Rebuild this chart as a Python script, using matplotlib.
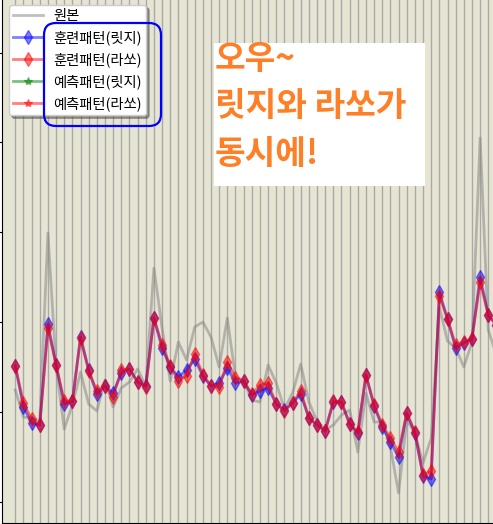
import matplotlib
matplotlib.use('Agg')
import matplotlib.pyplot as plt
from matplotlib.patches import FancyBboxPatch, Rectangle

plt.rcParams['font.family'] = ['Noto Sans CJK KR', 'DejaVu Sans']

# 원본 데이터와 학습 패턴
original = [12.42, 9.41, 9.30, 8.96, 29.90, 15.09, 8.07, 10.75, 14.42, 10.86,
            10.08, 13.53, 10.52, 12.64, 13.31, 14.76, 12.86, 26.00, 19.32, 13.42,
            17.76, 15.76, 19.43, 19.99, 18.32, 14.98, 20.43, 13.86, 13.42, 11.30,
            11.08, 15.20, 13.20, 10.30, 12.08, 15.31, 11.08, 8.96, 7.96, 8.52,
            9.63, 10.19, 5.51, 12.08, 8.85, 8.85, 6.07, 0.95, 9.08, 7.63,
            4.29, 7.07, 21.66, 17.87, 17.09, 14.98, 17.76, 40.48, 19.10, 16.31]

train_ridge = [15.09, 10.52, 8.74, 8.52, 19.77, 15.20, 10.86, 11.14, 18.32, 14.64,
               11.97, 12.86, 12.08, 14.31, 14.76, 13.31, 12.86, 20.43, 17.09, 14.98,
               13.86, 14.64, 15.87, 13.98, 12.86, 13.20, 14.87, 13.20, 13.42, 11.86,
               12.31, 12.64, 10.86, 10.19, 10.97, 11.97, 9.30, 8.52, 7.85, 11.08,
               11.08, 8.63, 7.63, 14.09, 10.63, 8.30, 6.63, 4.96, 9.86, 7.63,
               2.84, 2.51, 23.33, 20.32, 17.09, 17.65, 18.10, 25.00, 20.77, 19.65]

train_lasso = [15.09, 10.97, 9.19, 8.52, 19.32, 15.20, 11.19, 11.14, 18.21, 14.53,
               12.31, 12.86, 11.64, 14.64, 14.76, 13.31, 12.75, 20.43, 17.43, 15.09,
               13.42, 13.98, 16.43, 14.09, 12.86, 12.75, 15.53, 13.75, 13.42, 11.97,
               12.97, 13.20, 10.86, 10.08, 10.97, 12.31, 9.30, 8.52, 7.85, 11.19,
               11.08, 8.63, 7.74, 14.09, 10.75, 8.52, 7.07, 5.51, 9.86, 7.74,
               2.95, 3.40, 22.88, 20.32, 17.43, 17.76, 18.10, 24.44, 20.77, 19.65]

# 예측 패턴은 보이는 영역 밖
pred_ridge = []
pred_lasso = []

idx = list(range(len(original)))

fig = plt.figure(figsize=(4.93, 5.24), dpi=100)
ax = fig.add_axes([2 / 493, 1.3 / 524, 518 / 493, 552.7 / 524])
ax.set_facecolor('#e6e5d3')

ax.plot(idx, original, color='gray', alpha=0.5, lw=2, label='원본')
ax.plot(idx, train_ridge, 'b-', marker='d', ms=7, alpha=0.5, lw=2, label='훈련패턴(릿지)')
ax.plot(idx, train_lasso, 'r-', marker='d', ms=7, alpha=0.5, lw=2, label='훈련패턴(라쏘)')
ax.plot(range(len(pred_ridge)), pred_ridge, 'g-', marker='*', alpha=0.5, lw=2, label='예측패턴(릿지)')
ax.plot(range(len(pred_lasso)), pred_lasso, 'r-', marker='*', alpha=0.5, lw=2, label='예측패턴(라쏘)')

ax.set_xlim(-1.631, 61.89)
ax.set_ylim(-2.36, 59.19)
ax.set_xticks(range(0, 62))
ax.set_yticks([0, 10, 20, 30, 40, 50])
ax.tick_params(labelleft=False, labelbottom=False, length=4)
ax.grid(axis='x', color='#a9a9a9', lw=1)
ax.set_axisbelow(True)
for s in ['top', 'right']:
    ax.spines[s].set_visible(False)

leg = ax.legend(loc='upper left', bbox_to_anchor=(9 / 493, 1 - 5 / 524),
                bbox_transform=fig.transFigure, borderaxespad=0, shadow=True,
                framealpha=1, fontsize=10.3, handlelength=2.1, labelspacing=0.5,
                borderpad=0.3, handletextpad=0.7)

# 파란 강조 박스
fig.add_artist(FancyBboxPatch((0.44, (524 - 126) / 100), 1.17, 1.03,
                              boxstyle='round,pad=0,rounding_size=0.12',
                              transform=fig.dpi_scale_trans,
                              facecolor='none', edgecolor='blue', lw=1.6, zorder=10))

# 흰 메모 박스
fig.add_artist(Rectangle((2.14, (524 - 186) / 100), 2.11, 1.43,
                         transform=fig.dpi_scale_trans,
                         facecolor='white', edgecolor='none', zorder=9))
fig.text(215 / 493, 1 - 43 / 524, '오우~\n릿지와 라쏘가\n동시에!',
         ha='left', va='top', fontsize=24, fontweight='bold', color='#ff7f27',
         linespacing=1.55, zorder=11)

fig.savefig('out.png', dpi=100)
